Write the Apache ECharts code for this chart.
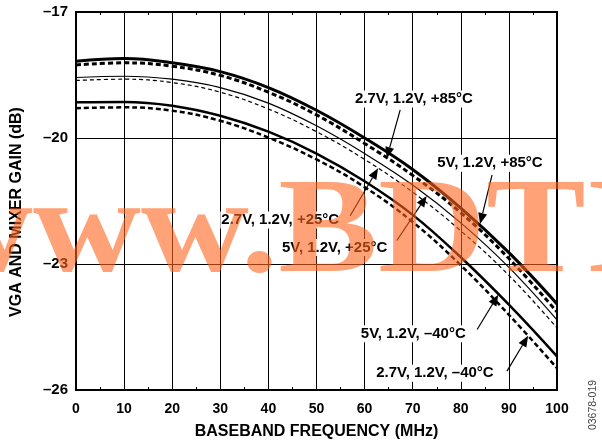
<!DOCTYPE html>
<html><head><meta charset="utf-8">
<script src="https://cdn.jsdelivr.net/npm/echarts@6/dist/echarts.min.js"></script>
<style>html,body{margin:0;padding:0;background:#fff}#c{width:602px;height:445px}</style>
</head><body><div id="c"></div>
<script>
// ---- data ----
const freq    = [0, 10, 20, 30, 40, 50, 60, 70, 80, 90, 100];
const s5V85   = [-18.17,-18.11,-18.21,-18.42,-18.80,-19.34,-20.00,-20.75,-21.67,-22.73,-23.95];
const s27V85  = [-18.26,-18.21,-18.29,-18.51,-18.91,-19.45,-20.13,-20.89,-21.78,-22.87,-24.14];
const s5V25   = [-18.56,-18.53,-18.60,-18.80,-19.17,-19.71,-20.37,-21.12,-22.02,-23.08,-24.33];
const s27V25  = [-18.63,-18.60,-18.68,-18.91,-19.31,-19.85,-20.51,-21.29,-22.21,-23.27,-24.52];
const s5Vm40  = [-19.15,-19.14,-19.23,-19.47,-19.85,-20.37,-21.03,-21.83,-22.84,-23.97,-25.20];
const s27Vm40 = [-19.29,-19.27,-19.35,-19.59,-19.99,-20.51,-21.17,-22.00,-23.03,-24.21,-25.48];
const seriesNames = ['5V, 1.2V, +85°C','2.7V, 1.2V, +85°C','5V, 1.2V, +25°C','2.7V, 1.2V, +25°C','5V, 1.2V, \u201340°C','2.7V, 1.2V, \u201340°C'];
const xTicks = [0,10,20,30,40,50,60,70,80,90,100];
const yTicks = [-26,-23,-20,-17];
const xTitle = 'BASEBAND FREQUENCY (MHz)';
const yTitle = 'VGA AND MIXER GAIN (dB)';

// ---- annotations: label anchor, arrow tail, arrow tip (data units) ----
const notes = [
  {text: seriesNames[1], at:[57.8,-19.07], tail:[67.4,-19.33], tip:[64.6,-20.48]},
  {text: seriesNames[0], at:[74.9,-20.60], tail:[86.5,-20.88], tip:[84.0,-22.05]},
  {text: seriesNames[3], at:[30.0,-21.95], tail:[57.0,-21.85], tip:[62.8,-20.72]},
  {text: seriesNames[2], at:[42.6,-22.61], tail:[66.7,-22.44], tip:[72.9,-21.38]},
  {text: seriesNames[4], at:[59.0,-24.66], tail:[83.4,-24.56], tip:[87.8,-23.73]},
  {text: seriesNames[5], at:[62.2,-25.60], tail:[89.6,-25.55], tip:[94.0,-24.71]}
];

const F = '"Liberation Sans", Arial, Helvetica, sans-serif';
const chart = echarts.init(document.getElementById('c'));

function line(name, vals, width, dash) {
  return {
    name, type:'line', smooth:0.4, symbol:'none', z:3,
    data: freq.map((f,i)=>[f, vals[i]]),
    lineStyle:{color:'#000', width, type: dash ? dash : 'solid'}
  };
}

const option = {
  animation:false,
  backgroundColor:'#fff',
  grid:{left:76, right:45, top:12, bottom:51, show:true, borderColor:'#000', borderWidth:2, backgroundColor:'transparent', z:4},
  xAxis:[{
    type:'value', min:xTicks[0], max:xTicks[xTicks.length-1], interval:10,
    axisLine:{show:false},
    axisTick:{show:true, inside:true, length:3, lineStyle:{color:'#000'}},
    minorTick:{show:true, splitNumber:2, length:3, lineStyle:{color:'#000'}},
    axisLabel:{fontFamily:F, fontWeight:'bold', fontSize:14, color:'#000', margin:12},
    splitLine:{show:true, lineStyle:{color:'#000', width:1}},
    name:xTitle, nameLocation:'middle', nameGap:34,
    nameTextStyle:{fontFamily:F, fontWeight:'bold', fontSize:16, color:'#000'}
  },{
    type:'value', position:'top', min:xTicks[0], max:xTicks[xTicks.length-1], interval:10,
    axisLine:{show:false}, axisLabel:{show:false}, splitLine:{show:false},
    axisTick:{show:true, inside:true, length:3, lineStyle:{color:'#000'}},
    minorTick:{show:true, splitNumber:2, length:3, lineStyle:{color:'#000'}}
  }],
  yAxis:{
    type:'value', min:yTicks[0], max:yTicks[yTicks.length-1], interval:3,
    axisLine:{show:false}, axisTick:{show:false},
    axisLabel:{fontFamily:F, fontWeight:'bold', fontSize:15, color:'#000', margin:8,
      formatter:v => v < 0 ? '\u2013' + Math.abs(v) : String(v)},
    splitLine:{show:true, lineStyle:{color:'#000', width:1}}
  },
  series:[
    line(seriesNames[0], s5V85, 3, null),
    line(seriesNames[1], s27V85, 3, [5,3]),
    line(seriesNames[2], s5V25, 1.2, null),
    line(seriesNames[3], s27V25, 1.2, [4,3]),
    line(seriesNames[4], s5Vm40, 2.5, null),
    line(seriesNames[5], s27Vm40, 2.5, [5,3])
  ]
};
chart.setOption(option);

const px = p => chart.convertToPixel({xAxisIndex:0, yAxisIndex:0}, p);
const g = [];
notes.forEach(n => {
  const a = px(n.at), t = px(n.tail), h = px(n.tip);
  const dx = h[0]-t[0], dy = h[1]-t[1], L = Math.hypot(dx,dy), ux = dx/L, uy = dy/L;
  const hl = 11, hw = 4.5;
  const bx = h[0]-ux*hl, by = h[1]-uy*hl;
  g.push({type:'line', z:20, shape:{x1:t[0], y1:t[1], x2:bx, y2:by}, style:{stroke:'#000', lineWidth:1.2}});
  g.push({type:'polygon', z:20, shape:{points:[[h[0],h[1]],[bx-uy*hw, by+ux*hw],[bx+uy*hw, by-ux*hw]]}, style:{fill:'#000'}});
  g.push({type:'text', z:21, x:a[0], y:a[1], style:{text:n.text, fontFamily:F, fontWeight:'bold', fontSize:15, fill:'#000',
    align:'left', verticalAlign:'middle', backgroundColor:'#fff', padding:[1,1,1,1]}});
});
// y-axis title
g.push({type:'text', z:21, x:17, y:212, rotation:Math.PI/2, style:{text:yTitle, fontFamily:F, fontWeight:'bold', fontSize:16, fill:'#000', align:'center', verticalAlign:'middle'}});
// figure id
g.push({type:'text', z:21, x:593, y:405, rotation:Math.PI/2, style:{text:'03678-019', fontFamily:F, fontSize:10.5, fill:'#444', align:'center', verticalAlign:'middle'}});
// watermark
g.push({type:'text', z:50, x:-75, y:304, scaleX:1.1, style:{text:'www.BDTIC.com', fontFamily:'"Liberation Serif", "Times New Roman", serif', fontWeight:'bold', fontSize:136, fill:'rgba(255,100,30,0.6)', align:'left', verticalAlign:'bottom'}});
chart.setOption({graphic:g});
</script></body></html>
